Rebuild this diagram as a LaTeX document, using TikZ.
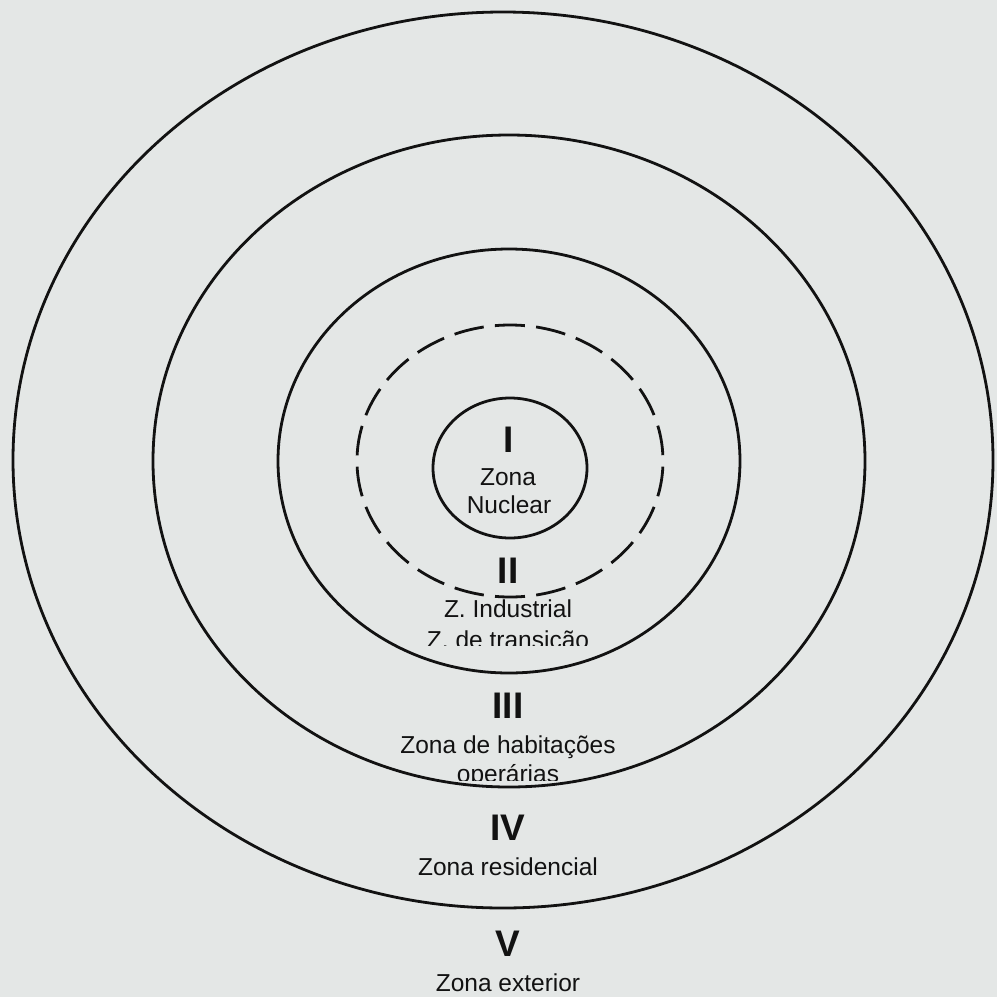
\documentclass[tikz,border=0pt]{standalone}
\usepackage{fontspec}
\setmainfont{Liberation Sans}
\definecolor{bg}{RGB}{228,231,230}
\definecolor{ink}{RGB}{18,18,18}
\begin{document}
\begin{tikzpicture}[x=1pt,y=-1pt,
  ring/.style={draw=ink, line width=2.8pt},
  dashring/.style={ring, dash pattern=on 30pt off 11.3pt, dash phase=35.6pt},
  numeral/.style={anchor=base, text=ink, inner sep=0pt, font=\fontsize{37}{40}\selectfont\bfseries},
  zonetext/.style={anchor=base, text=ink, inner sep=0pt, font=\fontsize{24.5}{28}\selectfont}]
\fill[bg] (0,0) rectangle (997,997);
\useasboundingbox (0,0) rectangle (997,997);
% rings
\draw[ring] (503,460) ellipse [x radius=490, y radius=448];
\draw[ring] (509,461) ellipse [x radius=356, y radius=326];
\draw[ring] (509,461) ellipse [x radius=231, y radius=212];
\draw[dashring] (510,461) ellipse [x radius=153, y radius=136];
\draw[ring] (510,468) ellipse [x radius=77, y radius=70];
% zone I
\node[numeral] (n1) at (509,452) {I};
\node[zonetext] (t1a) at (508,485) {Zona};
\node[zonetext] (t1b) at (509,513) {Nuclear};
% zone II
\node[numeral] (n2) at (508,583) {II};
\node[zonetext] (t2a) at (508,617) {Z. Industrial};
\begin{scope}
  \clip (300,600) rectangle (720,645);
  \node[zonetext] (t2b) at (508,648) {Z. de transição};
\end{scope}
% zone III
\node[numeral] (n3) at (508,718) {III};
\node[zonetext] (t3a) at (508,753) {Zona de habitações};
\begin{scope}
  \clip (300,755) rectangle (720,780);
  \node[zonetext] (t3b) at (508,782) {operárias};
\end{scope}
% zone IV
\node[numeral] (n4) at (508,840) {IV};
\node[zonetext] (t4) at (508,875) {Zona residencial};
% zone V
\node[numeral] (n5) at (508,956) {V};
\node[zonetext] (t5) at (508,991) {Zona exterior};
\end{tikzpicture}
\end{document}
